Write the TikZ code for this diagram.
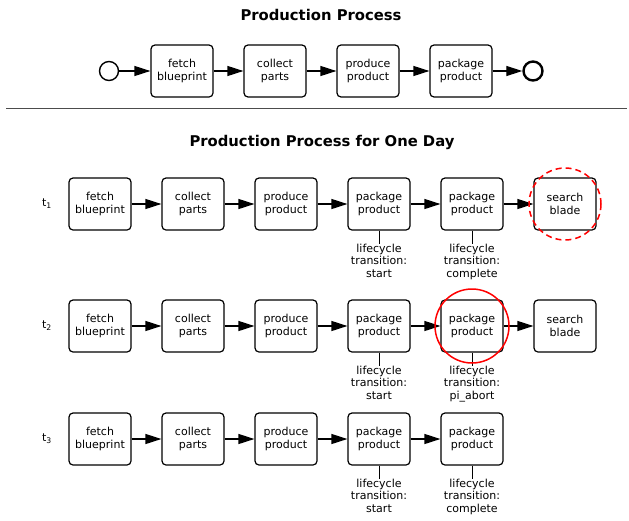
\documentclass[tikz,border=0pt]{standalone}
\usepackage{fontspec}
\setmainfont{DejaVu Sans}
\usetikzlibrary{arrows.meta}

\tikzset{
  task/.style={draw, line width=1.2pt, rounded corners=4pt, minimum width=62pt,
    minimum height=52pt, align=center, inner sep=1pt, font=\fontsize{11}{12.8}\selectfont},
  flow/.style={line width=1.2pt, -{Triangle[length=16pt,width=10pt]}},
  evt/.style={circle, draw, minimum size=19pt, inner sep=0pt},
  annot/.style={align=center, anchor=north, inner sep=0pt, font=\fontsize{11}{12.3}\selectfont},
  heading/.style={font=\fontsize{14.8}{17}\selectfont\bfseries},
}

\begin{document}
\begin{tikzpicture}[x=1pt, y=-1pt]
    \useasboundingbox (0,0) rectangle (629,520);

    % overview process
    \node[heading] (title1) at (321,15) {Production Process};
    \node[evt, line width=1.4pt] (start) at (109,71) {};
    \foreach \lbl [count=\i] in {fetch\\blueprint, collect\\parts, produce\\product, package\\product}
        \node[task] (p\i) at (182+93*\i-93, 71) {\lbl};
    \node[evt, line width=2.4pt] (stop) at (533,71) {};
    \draw[flow] (start) -- (p1);
    \foreach \i/\j in {1/2, 2/3, 3/4}
        \draw[flow] (p\i) -- (p\j);
    \draw[flow] (p4) -- (stop);

    \draw[line width=1pt, black!70] (6,108) -- (627,108);

    % one day
    \node[heading] (title2) at (322,142) {Production Process for One Day};

    % row t1
    \node[font=\fontsize{11}{13}\selectfont] (t1) at (47,204) {t\textsubscript{1}};
    \foreach \lbl [count=\i] in {fetch\\blueprint, collect\\parts, produce\\product, package\\product, package\\product, search\\blade}
        \node[task] (a\i) at (100+93*\i-93, 204) {\lbl};
    \foreach \i/\j in {1/2, 2/3, 3/4, 4/5, 5/6}
        \draw[flow] (a\i) -- (a\j);
    \node[annot] (la4) at (379,244) {lifecycle\\transition:\\start};
    \node[annot] (la5) at (472,244) {lifecycle\\transition:\\complete};
    \draw (a4) -- (la4);
    \draw (a5) -- (la5);
    \draw[red, line width=1.5pt, dash pattern=on 6pt off 4pt] (a6) circle (36pt);

    % row t2
    \node[font=\fontsize{11}{13}\selectfont] (t2) at (47,326) {t\textsubscript{2}};
    \foreach \lbl [count=\i] in {fetch\\blueprint, collect\\parts, produce\\product, package\\product, package\\product, search\\blade}
        \node[task] (b\i) at (100+93*\i-93, 326) {\lbl};
    \foreach \i/\j in {1/2, 2/3, 3/4, 4/5, 5/6}
        \draw[flow] (b\i) -- (b\j);
    \node[annot] (lb4) at (379,366) {lifecycle\\transition:\\start};
    \node[annot] (lb5) at (472,366) {lifecycle\\transition:\\pi\_abort};
    \draw (b4) -- (lb4);
    \draw (b5) -- (lb5);
    \draw[red, line width=1.5pt] (b5) circle (37pt);

    % row t3
    \node[font=\fontsize{11}{13}\selectfont] (t3) at (47,439) {t\textsubscript{3}};
    \foreach \lbl [count=\i] in {fetch\\blueprint, collect\\parts, produce\\product, package\\product, package\\product}
        \node[task] (c\i) at (100+93*\i-93, 439) {\lbl};
    \foreach \i/\j in {1/2, 2/3, 3/4, 4/5}
        \draw[flow] (c\i) -- (c\j);
    \node[annot] (lc4) at (379,479) {lifecycle\\transition:\\start};
    \node[annot] (lc5) at (472,479) {lifecycle\\transition:\\complete};
    \draw (c4) -- (lc4);
    \draw (c5) -- (lc5);
\end{tikzpicture}
\end{document}
